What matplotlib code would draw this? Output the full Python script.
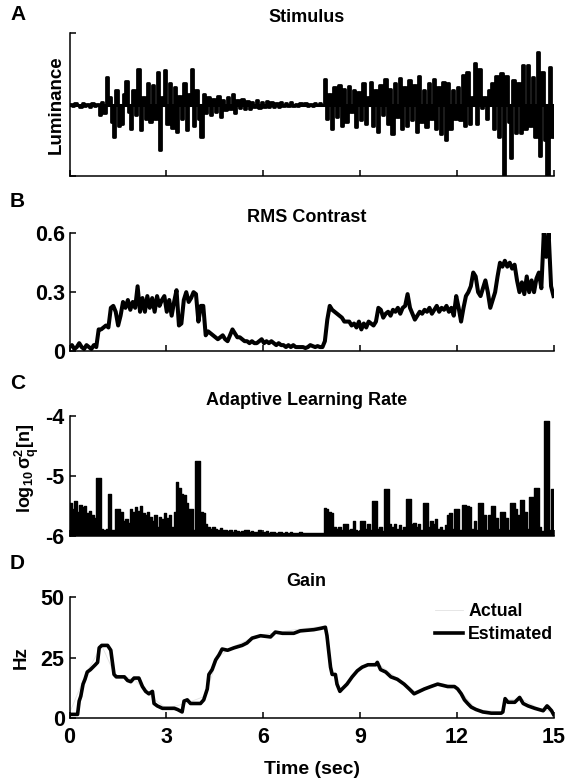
import numpy as np
import matplotlib
matplotlib.use('Agg')
import matplotlib.pyplot as plt

plt.rcParams['font.family'] = ['Liberation Sans', 'DejaVu Sans']
plt.rcParams['font.weight'] = 'bold'
plt.rcParams['mathtext.fontset'] = 'custom'
plt.rcParams['mathtext.rm'] = 'Liberation Sans:bold'
plt.rcParams['mathtext.bf'] = 'Liberation Sans:bold'
plt.rcParams['mathtext.it'] = 'Liberation Sans:bold:italic'

# ---------------- data ----------------
SAMPLE_DT = 0.075          # seconds per sample for panels A-C (200 samples)
T_END = 15.0
time_ticks = [0, 3, 6, 9, 12, 15]

stimulus = [
    0.01, -0.02, 0.02, -0.01, -0.03, 0.02, -0.02, 0.01, -0.03, 0.02,
    -0.02, 0.01, -0.15, 0.03, -0.12, 0.38, 0.10, -0.25, -0.45, 0.20,
    -0.30, -0.28, 0.15, 0.33, -0.10, -0.34, 0.20, -0.15, 0.50, -0.36,
    0.10, -0.20, 0.30, -0.25, 0.28, -0.20, 0.45, -0.64, 0.10, 0.48,
    -0.28, 0.30, -0.33, 0.25, -0.38, 0.12, -0.20, 0.30, -0.36, 0.15,
    0.50, -0.30, 0.20, -0.20, -0.45, 0.15, -0.12, 0.10, -0.15, 0.08,
    -0.10, 0.12, -0.18, 0.06, -0.08, 0.10, -0.06, 0.15, -0.12, 0.06,
    -0.05, 0.08, -0.06, 0.05, -0.07, 0.04, -0.04, 0.06, -0.05, 0.03,
    -0.03, 0.05, -0.04, 0.03, -0.03, 0.02, -0.03, 0.03, -0.02, 0.02,
    -0.02, 0.03, -0.02, 0.01, -0.02, 0.02, -0.01, 0.02, -0.02, 0.01,
    -0.02, 0.02, -0.01, 0.02, -0.01, 0.36, -0.20, 0.15, -0.35, 0.25,
    -0.18, 0.28, -0.30, 0.22, -0.25, 0.26, -0.10, 0.20, -0.32, 0.18,
    -0.22, 0.30, -0.28, 0.10, 0.32, -0.30, 0.20, -0.38, 0.28, -0.15,
    0.36, -0.28, 0.22, -0.42, 0.30, -0.18, 0.37, -0.35, 0.25, -0.30,
    0.34, -0.22, 0.28, -0.38, 0.40, -0.25, 0.20, -0.32, 0.30, -0.20,
    0.36, -0.35, 0.25, -0.42, 0.32, -0.50, 0.30, -0.35, 0.20, -0.20,
    0.25, -0.22, 0.42, -0.30, 0.45, -0.28, 0.10, 0.58, -0.28, 0.50,
    -0.05, 0.10, -0.20, 0.20, 0.30, -0.35, 0.40, -0.45, 0.44, -0.99,
    0.40, -0.25, -0.75, 0.35, -0.40, 0.30, -0.40, 0.55, -0.35, 0.55,
    -0.30, 0.38, -0.45, 0.74, -0.72, 0.45, -0.50, -0.99, 0.52, -0.45,
]

rms_contrast = [
    0.02, 0.03, 0.01, 0.02, 0.04, 0.02, 0.01, 0.03, 0.02, 0.01,
    0.03, 0.02, 0.11, 0.11, 0.12, 0.13, 0.12, 0.22, 0.23, 0.20,
    0.13, 0.18, 0.25, 0.22, 0.26, 0.21, 0.25, 0.22, 0.33, 0.20,
    0.27, 0.20, 0.28, 0.22, 0.27, 0.20, 0.28, 0.23, 0.26, 0.28,
    0.20, 0.26, 0.18, 0.25, 0.31, 0.13, 0.14, 0.26, 0.30, 0.25,
    0.27, 0.30, 0.29, 0.15, 0.23, 0.23, 0.08, 0.10, 0.09, 0.08,
    0.07, 0.06, 0.07, 0.08, 0.06, 0.05, 0.08, 0.11, 0.09, 0.07,
    0.07, 0.06, 0.05, 0.05, 0.04, 0.05, 0.04, 0.04, 0.05, 0.06,
    0.04, 0.05, 0.04, 0.05, 0.04, 0.03, 0.04, 0.03, 0.03, 0.02,
    0.03, 0.02, 0.03, 0.02, 0.02, 0.02, 0.02, 0.015, 0.02, 0.03,
    0.025, 0.02, 0.025, 0.02, 0.02, 0.05, 0.16, 0.23, 0.21, 0.20,
    0.19, 0.18, 0.17, 0.15, 0.15, 0.15, 0.13, 0.14, 0.12, 0.15,
    0.11, 0.14, 0.12, 0.15, 0.14, 0.13, 0.15, 0.22, 0.21, 0.17,
    0.19, 0.20, 0.18, 0.21, 0.20, 0.22, 0.19, 0.22, 0.23, 0.29,
    0.22, 0.19, 0.16, 0.18, 0.20, 0.19, 0.21, 0.20, 0.22, 0.19,
    0.21, 0.23, 0.20, 0.22, 0.21, 0.23, 0.20, 0.22, 0.18, 0.28,
    0.22, 0.15, 0.22, 0.28, 0.30, 0.33, 0.40, 0.38, 0.30, 0.28,
    0.32, 0.36, 0.30, 0.22, 0.26, 0.30, 0.38, 0.45, 0.43, 0.46,
    0.43, 0.45, 0.42, 0.44, 0.36, 0.30, 0.35, 0.29, 0.38, 0.30,
    0.36, 0.30, 0.37, 0.40, 0.32, 0.60, 0.48, 0.60, 0.33, 0.28,
]

log_learning_rate = [
    -5.45, -5.55, -5.42, -5.60, -5.48, -5.52, -5.50, -5.62, -5.58, -5.65,
    -5.70, -5.03, -5.03, -5.88, -5.90, -5.88, -5.30, -5.90, -5.90, -5.55,
    -5.55, -5.60, -5.75, -5.72, -5.78, -5.55, -5.60, -5.52, -5.58, -5.50,
    -5.62, -5.65, -5.60, -5.68, -5.75, -5.65, -5.85, -5.68, -5.72, -5.62,
    -5.70, -5.65, -5.85, -5.60, -5.10, -5.20, -5.30, -5.32, -5.45, -5.55,
    -5.55, -5.90, -4.75, -4.75, -5.60, -5.62, -5.80, -5.85, -5.88, -5.85,
    -5.88, -5.90, -5.87, -5.90, -5.91, -5.92, -5.90, -5.93, -5.91, -5.92,
    -5.93, -5.92, -5.90, -5.91, -5.93, -5.92, -5.94, -5.93, -5.91, -5.93,
    -5.94, -5.92, -5.95, -5.93, -5.94, -5.95, -5.93, -5.94, -5.95, -5.94,
    -5.95, -5.94, -5.95, -5.96, -5.95, -5.94, -5.96, -5.95, -5.96, -5.95,
    -5.96, -5.95, -5.96, -5.95, -5.96, -5.53, -5.55, -5.60, -5.62, -5.85,
    -5.88, -5.85, -5.90, -5.80, -5.80, -5.90, -5.88, -5.75, -5.90, -5.92,
    -5.75, -5.75, -5.88, -5.80, -5.90, -5.42, -5.42, -5.88, -5.85, -5.92,
    -5.22, -5.22, -5.80, -5.85, -5.80, -5.88, -5.82, -5.90, -5.85, -5.38,
    -5.38, -5.80, -5.78, -5.85, -5.80, -5.90, -5.46, -5.46, -5.85, -5.75,
    -5.80, -5.72, -5.88, -5.85, -5.90, -5.82, -5.65, -5.62, -5.88, -5.55,
    -5.55, -5.90, -5.48, -5.48, -5.50, -5.52, -5.88, -5.75, -5.90, -5.45,
    -5.45, -5.65, -5.90, -5.65, -5.50, -5.50, -5.70, -5.88, -5.60, -5.60,
    -5.70, -5.90, -5.45, -5.45, -5.55, -5.65, -5.40, -5.40, -5.60, -5.88,
    -5.35, -5.35, -5.20, -5.20, -5.85, -5.92, -4.08, -4.08, -5.90, -5.22,
]

# Gain panel: (time s, Hz)
gain_estimated = [
    (0, 1.5), (0.25, 1.5), (0.3, 7), (0.35, 9), (0.42, 14), (0.48, 16),
    (0.55, 19), (0.65, 20), (0.8, 22), (0.87, 23), (0.92, 29), (1.0, 30),
    (1.18, 30), (1.28, 28), (1.33, 23), (1.38, 18), (1.45, 17), (1.7, 17),
    (1.8, 15.5), (1.9, 15), (2.0, 16.5), (2.15, 16.5), (2.26, 13), (2.36, 11),
    (2.46, 10), (2.57, 11), (2.62, 6), (2.72, 5), (2.88, 4), (3.05, 4),
    (3.25, 4), (3.35, 3.5), (3.49, 2.5), (3.55, 7), (3.65, 7.5), (3.75, 6),
    (4.06, 6), (4.16, 7.5), (4.27, 12), (4.32, 18), (4.42, 20), (4.53, 24),
    (4.63, 26), (4.73, 28.5), (4.9, 28), (5.1, 29), (5.35, 30), (5.5, 31),
    (5.66, 33), (5.92, 34), (6.23, 33.5), (6.38, 35.5), (6.6, 35), (6.95, 35),
    (7.15, 36), (7.57, 36.5), (7.77, 37), (7.93, 37.5), (7.98, 34), (8.03, 28),
    (8.09, 21), (8.14, 18), (8.24, 18), (8.29, 14), (8.38, 11), (8.45, 12),
    (8.6, 14), (8.76, 17), (8.92, 19.5), (9.07, 21), (9.25, 22), (9.49, 22),
    (9.54, 23), (9.64, 20), (9.8, 19), (9.96, 17), (10.16, 16), (10.37, 14),
    (10.53, 12), (10.68, 10), (10.84, 11), (11.0, 12), (11.2, 13), (11.41, 14),
    (11.72, 13), (11.93, 13), (12.03, 12), (12.14, 10), (12.24, 7.5), (12.34, 6),
    (12.45, 4.5), (12.6, 3.5), (12.81, 2.5), (13.07, 2), (13.38, 2), (13.43, 2.5),
    (13.5, 8), (13.59, 6.5), (13.8, 6.5), (13.95, 8.5), (14.06, 6), (14.21, 5),
    (14.42, 4), (14.68, 3), (14.8, 5), (14.84, 4.5), (14.94, 3), (15.0, 1.5),
]
gain_actual = [
    (0, 2), (0.5, 18), (1.0, 30), (1.4, 18), (2.0, 16), (2.6, 8), (3.0, 4),
    (3.6, 6), (4.2, 9), (4.6, 25), (5.0, 29), (5.8, 34), (7.0, 36.5),
    (7.9, 38), (8.1, 20), (8.4, 12), (9.0, 21), (9.5, 23), (10.0, 18),
    (10.7, 11), (11.4, 14.5), (12.0, 13), (12.6, 3.5), (13.4, 2.5),
    (13.6, 7.5), (14.0, 8), (14.6, 3.5), (15.0, 2.5),
]

panel_titles = ['Stimulus', 'RMS Contrast', 'Adaptive Learning Rate', 'Gain']
panel_letters = ['A', 'B', 'C', 'D']

# ---------------- figure ----------------
fig = plt.figure(figsize=(5.79, 7.82), dpi=100)
W, H = 579.0, 782.0
LEFT, RIGHT = 69.5, 553.5
# (top px, bottom px) of each axes
boxes = [(33.3, 175.7), (233.3, 351.0), (416.0, 535.7), (597.0, 718.0)]
axes = []
for top, bot in boxes:
    ax = fig.add_axes([LEFT / W, 1 - bot / H, (RIGHT - LEFT) / W, (bot - top) / H])
    axes.append(ax)

TICK_FS = 15.5
for ax in axes:
    ax.spines['top'].set_visible(False)
    ax.spines['right'].set_visible(False)
    for s in ('left', 'bottom'):
        ax.spines[s].set_linewidth(1.1)
    ax.set_xlim(0, T_END)
    ax.set_xticks(time_ticks)
    ax.tick_params(direction='in', length=4.5, width=1.1, labelsize=TICK_FS, pad=3.5)

n = len(stimulus)
t_edges = np.arange(n + 1) * SAMPLE_DT

# A: stimulus
axA = axes[0]
stim_ext = stimulus + [stimulus[-1]]
axA.fill_between(t_edges, 0, stim_ext, step='post', color='black', lw=0)
axA.step(t_edges, stim_ext, where='post', color='black', lw=2.0)
axA.axhline(0, xmin=0, xmax=1, color='black', lw=2.2, zorder=0)
axA.set_ylim(-1, 1)
axA.set_yticks([-1, 1])
axA.set_yticklabels([])
axA.set_xticklabels([])
axA.set_ylabel('Luminance', fontsize=13.5, fontweight='bold')
axA.yaxis.set_label_coords(-0.01, 0.5)

# B: RMS contrast
axB = axes[1]
t_rms = np.linspace(0, T_END, len(rms_contrast))
axB.plot(t_rms, rms_contrast, color='black', lw=2.9)
axB.set_ylim(0, 0.6)
axB.set_yticks([0, 0.3, 0.6])
axB.set_yticklabels(['0', '0.3', '0.6'])
axB.set_xticklabels([])

# C: adaptive learning rate
axC = axes[2]
lr_ext = log_learning_rate + [log_learning_rate[-1]]
axC.fill_between(t_edges, -6, lr_ext, step='post', color='black', lw=0)
axC.step(t_edges, lr_ext, where='post', color='black', lw=1.0)
axC.set_ylim(-6, -4)
axC.set_yticks([-6, -5, -4])
axC.set_yticklabels(['-6', '-5', '-4'])
axC.set_xticklabels([])
axC.set_ylabel(r'$\mathbf{log_{10}\,σ_q^2[n]}$', fontsize=13)
axC.yaxis.set_label_coords(-0.058, 0.565)

# D: gain
axD = axes[3]
ga_t, ga_v = zip(*gain_actual)
ge_t, ge_v = zip(*gain_estimated)
axD.plot(ga_t, ga_v, color='#e2e2e2', lw=0.6, label='Actual', zorder=1)
axD.plot(ge_t, ge_v, color='black', lw=2.6, label='Estimated', zorder=2)
axD.set_ylim(0, 50)
axD.set_yticks([0, 25, 50])
axD.set_xticklabels([str(v) for v in time_ticks])
axD.tick_params(axis='x', pad=6.5)
axD.set_ylabel('Hz', fontsize=13.5, fontweight='bold')
axD.yaxis.set_label_coords(-0.082, 0.5)
axD.set_xlabel('Time (sec)', fontsize=14, fontweight='bold', labelpad=9)
leg = axD.legend(loc='upper right', bbox_to_anchor=(1.022, 1.04), frameon=False,
                 fontsize=12.8, handlelength=1.6, handletextpad=0.3,
                 labelspacing=0.35, borderpad=0.1)
for txt in leg.get_texts():
    txt.set_fontweight('bold')

# titles and panel letters
for ax, title in zip(axes, panel_titles):
    ax.set_title(title, fontsize=13, fontweight='bold', pad=8, x=0.49)
letter_baselines = [20, 207, 389, 569]
for letter, yb in zip(panel_letters, letter_baselines):
    fig.text(10 / W, 1 - yb / H, letter, fontsize=15, fontweight='bold',
             ha='left', va='baseline')

fig.savefig('out.png', dpi=100)
